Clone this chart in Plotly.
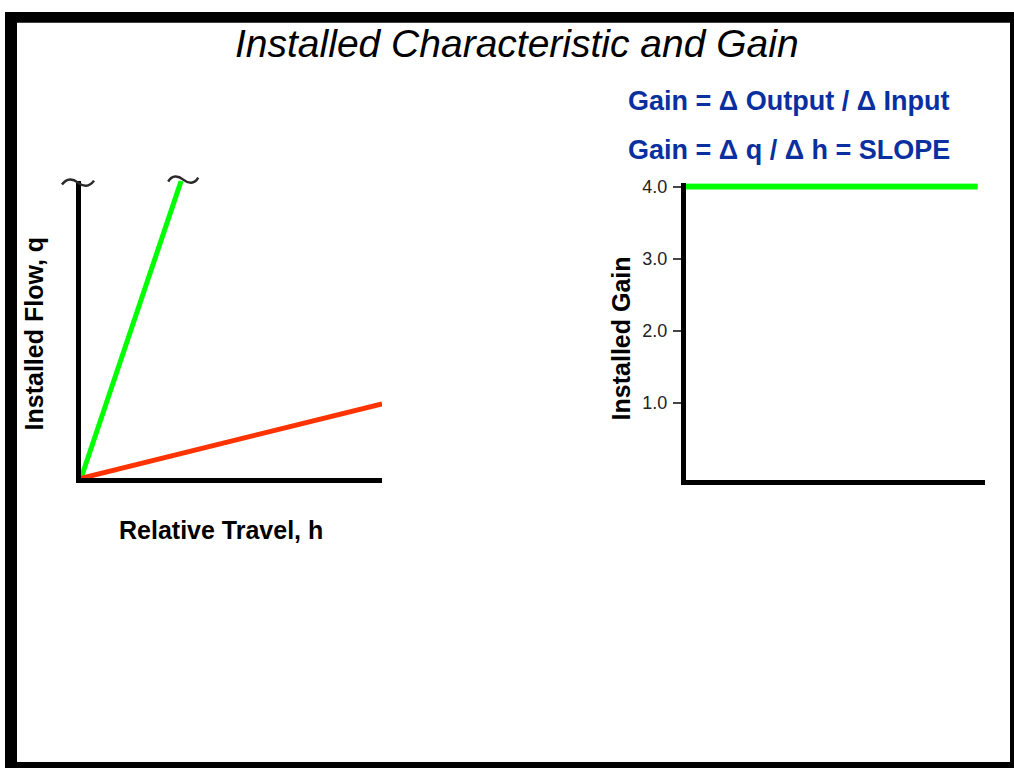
import plotly.graph_objects as go

W, H = 1014, 768

# Installed characteristic: flow q against relative travel h
travel_green = [0.0, 0.333]
flow_green = [0.0, 1.0]
travel_red = [0.0, 1.0]
flow_red = [0.0, 0.25]

# Installed gain against relative travel
gain_travel = [0.0, 1.0]
gain_values = [4.0, 4.0]
gain_ticks = [1.0, 2.0, 3.0, 4.0]
gain_tick_labels = ["1.0", "2.0", "3.0", "4.0"]

GREEN = "#00ff00"
RED = "#ff3300"
BLUE = "#0a2f9f"
INK = "#000000"
FONT = "Liberation Sans, Arial, sans-serif"

# subplot boxes in page pixels: (left, right, top, bottom)
LEFT_BOX = (81, 382, 176, 476)
RIGHT_BOX = (686, 985, 178.7, 477.5)
LEFT_XR, LEFT_YR = [0, 1], [0, 1]
RIGHT_XR, RIGHT_YR = [0, 1.025], [-0.07, 4.045]


def fx(p):
    return p / W


def fy(p):
    return 1 - p / H


def data_to_px(box, xr, yr, x, y):
    l, r, t, b = box
    px = l + (x - xr[0]) / (xr[1] - xr[0]) * (r - l)
    py = b - (y - yr[0]) / (yr[1] - yr[0]) * (b - t)
    return px, py


def squiggle(cx, cy, half=16, amp=4.0):
    pts = [(-half, 2), (-11, -amp - 1), (-5, -amp), (0, 0),
           (5, amp), (11, amp + 1), (half, -2)]
    p = [(fx(cx + dx), fy(cy + dy)) for dx, dy in pts]
    path = "M {:.5f},{:.5f} C {:.5f},{:.5f} {:.5f},{:.5f} {:.5f},{:.5f} " \
           "C {:.5f},{:.5f} {:.5f},{:.5f} {:.5f},{:.5f}".format(
               *p[0], *p[1], *p[2], *p[3], *p[4], *p[5], *p[6])
    return dict(type="path", xref="paper", yref="paper", path=path,
                line=dict(color="#2a2a2a", width=2.5))


fig = go.Figure()

fig.add_trace(go.Scatter(x=travel_green, y=flow_green, mode="lines",
                         line=dict(color=GREEN, width=5),
                         xaxis="x", yaxis="y", showlegend=False))
fig.add_trace(go.Scatter(x=travel_red, y=flow_red, mode="lines",
                         line=dict(color=RED, width=5),
                         xaxis="x", yaxis="y", showlegend=False))
fig.add_trace(go.Scatter(x=gain_travel, y=gain_values, mode="lines",
                         line=dict(color=GREEN, width=6),
                         xaxis="x2", yaxis="y2", showlegend=False))

axis_common = dict(showgrid=False, zeroline=False, showline=True,
                   linecolor=INK, linewidth=5, fixedrange=True)

fig.update_layout(
    width=W, height=H,
    margin=dict(l=0, r=0, t=0, b=0),
    paper_bgcolor="white", plot_bgcolor="white",
    showlegend=False,
    xaxis=dict(domain=[fx(LEFT_BOX[0]), fx(LEFT_BOX[1])], range=LEFT_XR,
               anchor="y", showticklabels=False, ticks="", **axis_common),
    yaxis=dict(domain=[fy(LEFT_BOX[3]), fy(LEFT_BOX[2])], range=LEFT_YR,
               anchor="x", showticklabels=False, ticks="", **axis_common),
    xaxis2=dict(domain=[fx(RIGHT_BOX[0]), fx(RIGHT_BOX[1])], range=RIGHT_XR,
                anchor="y2", showticklabels=False, ticks="", **axis_common),
    yaxis2=dict(domain=[fy(RIGHT_BOX[3]), fy(RIGHT_BOX[2])], range=RIGHT_YR,
                anchor="x2", tickmode="array", tickvals=gain_ticks,
                ticktext=gain_tick_labels, ticks="outside", ticklen=8,
                tickwidth=1.5, tickcolor="#444444", ticklabelstandoff=2,
                tickfont=dict(family=FONT, size=18, color="#222222"),
                **axis_common),
)

# slide frame
frame = [
    (5, 17, 6, 768),
    (5, 1014, 6, 17),
    (1010, 1014, 6, 768),
    (5, 1014, 762, 768),
]
shapes = [dict(type="rect", xref="paper", yref="paper",
               x0=fx(a), x1=fx(b), y0=fy(d), y1=fy(c),
               fillcolor=INK, line=dict(width=0), layer="above")
          for a, b, c, d in frame]

# break marks at the top of the flow axis and at the end of the green curve
ax_top = data_to_px(LEFT_BOX, LEFT_XR, LEFT_YR, 0, LEFT_YR[1])
green_end = data_to_px(LEFT_BOX, LEFT_XR, LEFT_YR, travel_green[-1], flow_green[-1])
shapes.append(squiggle(ax_top[0] - 3, ax_top[1] + 2))
shapes.append(squiggle(green_end[0] + 2, green_end[1] - 1, half=15))
fig.update_layout(shapes=shapes)

annotations = [
    dict(text="<i>Installed Characteristic and Gain</i>", x=fx(517), y=fy(38),
         font=dict(family=FONT, size=39, color=INK)),
    dict(text="<b>Gain = Δ Output / Δ Input</b>", x=fx(626), y=fy(96),
         xanchor="left", font=dict(family=FONT, size=27, color=BLUE)),
    dict(text="<b>Gain = Δ q / Δ h = SLOPE</b>", x=fx(626), y=fy(145),
         xanchor="left", font=dict(family=FONT, size=27, color=BLUE)),
    dict(text="<b>Installed Flow, q</b>", x=fx(34), y=fy(330), textangle=-90,
         font=dict(family=FONT, size=25, color=INK)),
    dict(text="<b>Relative Travel, h</b>", x=fx(221), y=fy(528),
         font=dict(family=FONT, size=25, color=INK)),
    dict(text="<b>Installed Gain</b>", x=fx(621), y=fy(335), textangle=-90,
         font=dict(family=FONT, size=25, color=INK)),
]
for a in annotations:
    a.setdefault("xanchor", "center")
    a.update(xref="paper", yref="paper", yanchor="middle", showarrow=False)
fig.update_layout(annotations=annotations)

fig.write_html("out.html", config={"displayModeBar": False})
